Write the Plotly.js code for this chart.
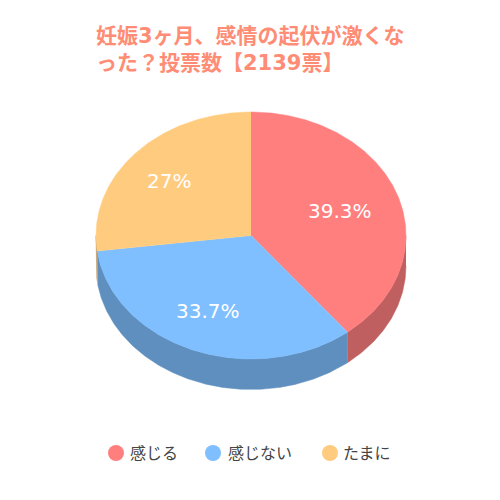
<!DOCTYPE html>
<html><head><meta charset="utf-8">
<script src="https://cdn.plot.ly/plotly-3.0.1.min.js"></script>
<style>html,body{margin:0;padding:0;background:#fff}</style>
</head><body><div id="chart" style="width:500px;height:500px"></div>
<script>
const categories = ["感じる","感じない","たまに"];
const shares = [39.3,33.7,27];
const shareLabels = ["39.3%","33.7%","27%"];
const topColors = ["#ff7f7f","#7fbfff","#ffcc7f"];
const wallColors = ["#bf5f5f","#5f8fbf","#bf995f"];
const FF = '"DejaVu Sans","Noto Sans CJK JP",sans-serif';
const cx=251, cy=235.5, rx=155, ry=123.5, depth=30.5;
function pt(deg,dy){const a=deg*Math.PI/180;return [cx+rx*Math.sin(a),cy-ry*Math.cos(a)+(dy||0)];}
function arc(a0,a1,dy){const n=Math.max(2,Math.ceil((a1-a0)*2)),o=[];for(let i=0;i<=n;i++)o.push(pt(a0+(a1-a0)*i/n,dy));return o;}
function poly(points,color,w){return {type:"scatter",mode:"lines",x:points.map(p=>p[0]),y:points.map(p=>p[1]),fill:"toself",fillcolor:color,line:{color:color,width:w===undefined?0.5:w,shape:"linear"},hoverinfo:"skip",showlegend:false};}
const total=shares.reduce((a,b)=>a+b,0);
let start=0; const ranges=shares.map(v=>{const r=[start,start+v/total*360];start=r[1];return r;});
const traces=[];
ranges.forEach((r,i)=>{const a0=Math.max(r[0],90),a1=Math.min(r[1],270);
  if(a1>a0){traces.push(poly(arc(a0,a1,0).concat(arc(a0,a1,depth).reverse()),wallColors[i]));}});
ranges.forEach((r,i)=>{traces.push(poly([[cx,cy]].concat(arc(r[0],r[1],0)),topColors[i]));});
const keyMarkX=[116,213,330], keyTextX=[128,226,341], keyY=453;
categories.forEach((c,i)=>traces.push({type:"scatter",mode:"markers",x:[keyMarkX[i]],y:[keyY],name:c,marker:{color:topColors[i],size:16,symbol:"circle"},hoverinfo:"skip",showlegend:false}));
const labelPos=[[340,211],[208,311],[169,181]];
const annotations=shareLabels.map((t,i)=>({x:labelPos[i][0],y:labelPos[i][1],xref:"x",yref:"y",text:t,showarrow:false,xanchor:"center",yanchor:"middle",font:{family:FF,size:20,color:"#fff"}}))
 .concat(categories.map((c,i)=>({x:keyTextX[i],y:keyY,xref:"x",yref:"y",text:c,showarrow:false,xanchor:"left",yanchor:"middle",font:{family:FF,size:16,color:"#444"}})));
Plotly.newPlot("chart",traces,{
  width:500,height:500,margin:{l:0,r:0,t:0,b:0},paper_bgcolor:"#fff",plot_bgcolor:"#fff",showlegend:false,
  xaxis:{range:[0,500],visible:false,fixedrange:true},
  yaxis:{range:[500,0],visible:false,fixedrange:true},
  title:{text:"<b>妊娠3ヶ月、感情の起伏が激くな<br>った？投票数【2139票】</b>",x:96/500,xanchor:"left",xref:"paper",y:1-43/500,yanchor:"middle",yref:"paper",font:{family:FF,size:21,color:"#ff8c75"}},
  annotations:annotations
},{staticPlot:true,displayModeBar:false});
</script></body></html>
